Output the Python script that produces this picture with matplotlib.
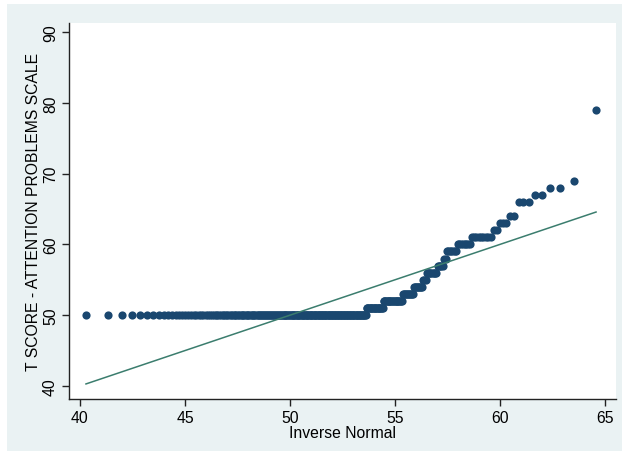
import numpy as np
import matplotlib
matplotlib.use("Agg")
import matplotlib.pyplot as plt
from matplotlib.patches import Rectangle
from statistics import NormalDist

score_values = [50, 51, 52, 53, 54, 55, 56, 57, 58, 59, 60, 61, 62, 63, 64, 66, 67, 68, 69, 79]
score_counts = [188, 21, 22, 11, 9, 3, 9, 5, 2, 7, 8, 9, 2, 3, 2, 3, 2, 2, 1, 1]

x_ticks = [40, 45, 50, 55, 60, 65]
y_ticks = [40, 50, 60, 70, 80, 90]

plt.rcParams.update({
    'font.family': ['Liberation Sans', 'DejaVu Sans'],
    'font.size': 11.3,
})

# qnorm: sorted data against normal quantiles with the data's mean and sd
y = np.sort(np.repeat(score_values, score_counts)).astype(float)
n = len(y)
mu = y.mean()
sd = y.std(ddof=1)
nd = NormalDist(mu, sd)
x = np.array([nd.inv_cdf(i / (n + 1)) for i in range(1, n + 1)])

fig = plt.figure(figsize=(6.24, 4.56), dpi=100, facecolor='white')
# Stata-like graph region behind the axes
fig.patches.append(Rectangle((7 / 624, 4 / 456), 615 / 624, 447 / 456,
                             transform=fig.transFigure, facecolor='#eaf2f3',
                             edgecolor='none', zorder=-10))

ax = fig.add_axes([69 / 624, 56 / 456, 547 / 624, 376 / 456])
ax.set_zorder(1)
ax.set_facecolor('white')

ax.plot(x, y, 'o', color='#1a476f', markersize=5.9, markeredgewidth=0, zorder=3)
ax.plot([x.min(), x.max()], [x.min(), x.max()], color='#3b7d6e', linewidth=1.1, zorder=4)

ax.set_xlim(39.48, 65.52)
ax.set_ylim(38.16, 91.27)
ax.set_xticks(x_ticks)
ax.set_yticks(y_ticks)
ax.set_yticklabels([str(t) for t in y_ticks], rotation=90, va='center')

for side in ['top', 'right']:
    ax.spines[side].set_visible(False)
for side in ['left', 'bottom']:
    ax.spines[side].set_linewidth(1.0)
    ax.spines[side].set_color('#222222')
ax.tick_params(direction='out', length=5, width=1.0, color='#222222', labelsize=11.3, pad=3)

ax.set_xlabel('Inverse Normal', fontsize=11.3, labelpad=0)
ax.set_ylabel('T SCORE - ATTENTION PROBLEMS SCALE', fontsize=11.3, labelpad=1)

fig.savefig('out.png', dpi=100, facecolor=fig.get_facecolor())
